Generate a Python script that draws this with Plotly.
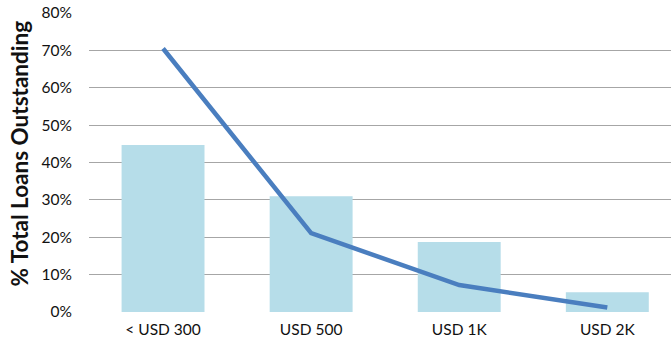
import plotly.graph_objects as go

categories = ["< USD 300", "USD 500", "USD 1K", "USD 2K"]
bar_values = [0.447, 0.31, 0.187, 0.053]
line_values = [0.705, 0.211, 0.072, 0.012]
y_ticks = [0, 0.1, 0.2, 0.3, 0.4, 0.5, 0.6, 0.7, 0.8]
y_tick_labels = ["0%", "10%", "20%", "30%", "40%", "50%", "60%", "70%", "80%"]
y_title = "% Total Loans Outstanding"

font_family = "Lato, 'Open Sans', sans-serif"

fig = go.Figure()
fig.add_trace(go.Bar(
    x=categories, y=bar_values, marker=dict(color="#b6dde9", line=dict(width=0)),
    width=0.56, showlegend=False,
))
fig.add_trace(go.Scatter(
    x=categories, y=line_values, mode="lines",
    line=dict(color="#4a7ebf", width=4.5), showlegend=False,
))

fig.add_annotation(
    text="<b>" + y_title + "</b>", textangle=-90,
    xref="paper", yref="paper", x=-0.1186, y=0.53,
    xanchor="center", yanchor="middle", showarrow=False,
    font=dict(size=22.5, color="#111111", family=font_family),
)

fig.update_layout(
    width=671, height=351,
    margin=dict(l=89, r=0, t=13, b=39),
    plot_bgcolor="white", paper_bgcolor="white",
    font=dict(family=font_family, size=15, color="#111111"),
    xaxis=dict(
        range=[-0.5, 3.43], showgrid=False, showline=False, zeroline=False,
        tickfont=dict(size=15.5), ticks="", ticklabelstandoff=6,
    ),
    yaxis=dict(
        range=[0, 0.8], tickvals=y_ticks, ticktext=y_tick_labels,
        showgrid=True, gridcolor="#a6a6a6", gridwidth=1.3, zeroline=False,
        showline=False, ticks="", ticklabelstandoff=16,
        tickfont=dict(size=15.5),
    ),
)

fig.write_html("out.html")
